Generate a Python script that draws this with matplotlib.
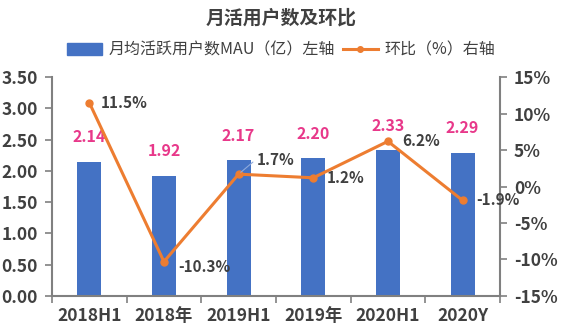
import numpy as np
import matplotlib.pyplot as plt

plt.rcParams['font.family'] = ['Noto Sans CJK SC', 'DejaVu Sans']

categories = ['2018H1', '2018年', '2019H1', '2019年', '2020H1', '2020Y']
mau = [2.14, 1.92, 2.17, 2.20, 2.33, 2.29]
qoq = [11.5, -10.3, 1.7, 1.2, 6.2, -1.9]

bar_color = '#4472C4'
line_color = '#ED7D31'
pink = '#E8388A'
text_color = '#404040'
spine_color = '#808080'

fig = plt.figure(figsize=(5.62, 3.34), dpi=100)
ax = fig.add_axes([0.0925, 0.114, 0.797, 0.655])
ax2 = ax.twinx()

x = np.arange(len(categories))
ax.bar(x, mau, width=0.32, color=bar_color, zorder=2)
ax2.plot(x, qoq, color=line_color, lw=2.2, marker='o', ms=5, zorder=3)

ax.set_xlim(-0.5, len(categories) - 0.5)
ax.set_ylim(0, 3.5)
ax.set_yticks(np.arange(0, 3.51, 0.5))
ax.set_yticklabels([f'{v:.2f}' for v in np.arange(0, 3.51, 0.5)])
ax2.set_ylim(-15, 15)
ax2.set_yticks(np.arange(-15, 16, 5))
ax2.set_yticklabels([f'{v}%' for v in range(-15, 16, 5)])

ax.set_xticks(x)
ax.set_xticklabels(categories)
ax.set_xticks(np.arange(-0.5, len(categories)), minor=True)
ax.tick_params(axis='x', which='major', length=0, pad=8)
ax.tick_params(axis='x', which='minor', length=5, color=spine_color, width=1.2)

for a in (ax, ax2):
    for s in a.spines.values():
        s.set_visible(False)
    for lab in a.get_xticklabels() + a.get_yticklabels():
        lab.set_fontweight('bold')
        lab.set_color(text_color)
        lab.set_fontsize(12.5)
ax.spines['left'].set_visible(True)
ax.spines['bottom'].set_visible(True)
ax2.spines['right'].set_visible(True)
for s in (ax.spines['left'], ax.spines['bottom'], ax2.spines['right']):
    s.set_color(spine_color)
    s.set_linewidth(1.5)
ax.tick_params(axis='y', length=5, color=spine_color, width=1.2, pad=5)
ax2.tick_params(axis='y', length=5, color=spine_color, width=1.2, pad=5)

# bar values
for xi, v in zip(x, mau):
    ax.annotate(f'{v:.2f}', (xi, v), xytext=(0, 12), textcoords='offset points',
                ha='center', va='bottom', color=pink, fontsize=11.5, fontweight='bold')

# growth labels next to the line points
offsets = [(8, 0), (10, -4), (13, 10), (10, 0), (10, 0), (10, 0)]
for xi, v, (dx, dy) in zip(x, qoq, offsets):
    ax2.annotate(f'{v:.1f}%', (xi, v), xytext=(dx, dy), textcoords='offset points',
                 ha='left', va='center', color=text_color, fontsize=11,
                 fontweight='bold', zorder=4)
ax2.annotate('', (x[2], qoq[2]), xytext=(x[2] + 0.22, qoq[2] + 1.9),
             arrowprops=dict(arrowstyle='-', color='#8faadc', lw=0.8))

fig.text(0.5, 0.945, '月活用户数及环比', ha='center', va='center',
         fontsize=13.6, fontweight='bold', color=text_color)

handles = [plt.Rectangle((0, 0), 1, 1, color=bar_color),
           plt.Line2D([], [], color=line_color, lw=2.2, marker='o', ms=4)]
fig.legend(handles, ['月均活跃用户数MAU（亿）左轴', '环比（%）右轴'],
           loc='center', bbox_to_anchor=(0.5, 0.85), ncol=2, frameon=False,
           fontsize=11.5, handlelength=2.2, columnspacing=0.5, handletextpad=0.4,
           labelcolor=text_color)

fig.savefig('out.png', dpi=100)
